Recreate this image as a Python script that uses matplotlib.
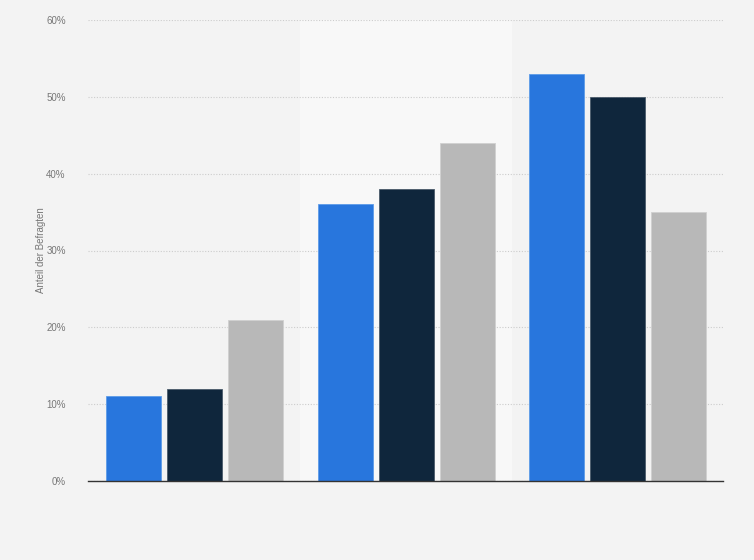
import matplotlib
matplotlib.use("Agg")
import matplotlib.pyplot as plt
import numpy as np

groups = ["Gruppe 1", "Gruppe 2", "Gruppe 3"]
series_names = ["Serie A", "Serie B", "Serie C"]
series_a = [11, 36, 53]
series_b = [12, 38, 50]
series_c = [21, 44, 35]
yticks = [0, 10, 20, 30, 40, 50, 60]
ytick_labels = ["0%", "10%", "20%", "30%", "40%", "50%", "60%"]
colors = ["#2876dd", "#0f263c", "#b8b8b8"]
edge_colors = ["#5d9be8", "#4a5a6a", "#d0d0d0"]

plt.rcParams["font.family"] = ["Liberation Sans", "DejaVu Sans"]

fig = plt.figure(figsize=(7.54, 5.6), dpi=100)
fig.patch.set_facecolor("#f3f3f3")
ax = fig.add_axes([88/754, 1-481/560, (723-88)/754, (481-20)/560])
ax.set_facecolor("#f3f3f3")

x = np.arange(len(groups))
width = 0.26
step = 0.288
for i, (vals, c, ec) in enumerate(zip([series_a, series_b, series_c], colors, edge_colors)):
    ax.bar(x + (i-1)*step + 0.003, vals, width=width, color=c, edgecolor=ec, linewidth=0.6, zorder=3, label=series_names[i])

# highlight band behind middle group
ax.axvspan(0.5, 1.5, color="#f8f8f8", zorder=0)

ax.set_xlim(-0.5, 2.5)
ax.set_ylim(0, 60)
ax.set_yticks(yticks)
ax.set_yticklabels(ytick_labels, fontsize=7, color="#777777")
ax.set_xticks([])
ax.tick_params(axis="y", length=0, pad=16)
ax.yaxis.grid(True, linestyle=(0, (1, 1.5)), color="#cccccc", linewidth=0.8, zorder=1)
for s in ["top", "right", "left"]:
    ax.spines[s].set_visible(False)
ax.spines["bottom"].set_color("#333333")
ax.spines["bottom"].set_linewidth(1.0)
ax.spines["bottom"].set_zorder(4)
ax.set_ylabel("Anteil der Befragten", fontsize=7, color="#777777")
ax.yaxis.set_label_coords((46-88)/635, 0.5)

fig.savefig("out.png", dpi=100, facecolor=fig.get_facecolor())
